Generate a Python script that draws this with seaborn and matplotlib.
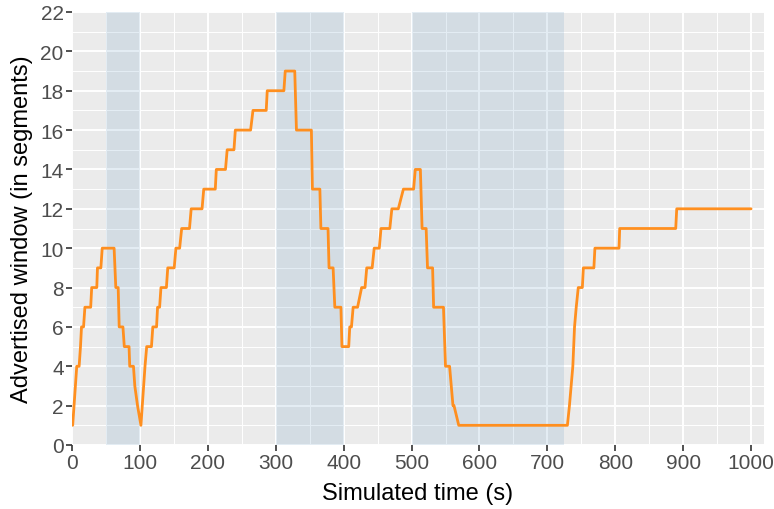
import matplotlib
matplotlib.use("Agg")
import matplotlib.pyplot as plt
import numpy as np
import pandas as pd
import seaborn as sns

# Advertised window trace (time in seconds, window in segments)
time_s = [1, 7, 10.5, 12.5, 14, 17, 19, 27.5, 29, 36.5, 37.5, 42.5, 44.5, 62, 64.5,
          68, 69.5, 75, 77, 84, 85, 90.5, 92.5, 96.5, 101.5, 107.5, 110, 117, 119,
          124.5, 126, 129, 131, 139, 141, 150.5, 153, 158.5, 161.5, 173, 175.5,
          191.5, 194, 211, 212.5, 226, 228.5, 238.5, 240.5, 263, 266.5, 286, 287.5,
          312, 314, 328, 330.5, 352.5, 354, 365, 366.5, 377, 378.5, 384.5, 387, 396,
          397.5, 407.5, 409, 411.5, 414, 420.5, 426.5, 431.5, 434, 442, 445, 452.5,
          455, 468, 471, 480.5, 488, 503, 505.5, 513, 515.5, 521.5, 523.5, 531,
          532.5, 547, 550, 556, 558.5, 561, 562.5, 569.5, 729.5, 732.5, 737.5, 740,
          742.5, 745.5, 751.5, 753, 768.5, 770, 805.5, 806.5, 889, 890.5, 1000]
window = [1, 4, 4, 5, 6, 6, 7, 7, 8, 8, 9, 9, 10, 10, 8,
          8, 6, 6, 5, 5, 4, 4, 3, 2, 1, 4, 5, 5, 6,
          6, 7, 7, 8, 8, 9, 9, 10, 10, 11, 11, 12,
          12, 13, 13, 14, 14, 15, 15, 16, 16, 17, 17, 18,
          18, 19, 19, 16, 16, 13, 13, 11, 11, 9, 9, 7, 7,
          5, 5, 6, 6, 7, 7, 8, 8, 9, 9, 10, 10,
          11, 11, 12, 12, 13, 13, 14, 14, 11, 11, 9, 9,
          7, 7, 4, 4, 3, 2, 2, 1, 1, 2, 4, 6,
          7, 8, 8, 9, 9, 10, 10, 11, 11, 12, 12]

# Shaded intervals (start, end) in seconds
shade_start = [50, 300, 500]
shade_end = [100, 400, 725]

x_ticks = list(range(0, 1001, 100))
y_ticks = list(range(0, 23, 2))

df = pd.DataFrame({"time": time_s, "window": window})

sns.set_theme(style="white")
plt.rcParams["font.family"] = ["Liberation Sans", "DejaVu Sans"]

fig = plt.figure(figsize=(7.74, 5.10), dpi=100)
ax = fig.add_axes([72 / 774, 64 / 510, 692 / 774, 433 / 510])
ax.set_facecolor("#EBEBEB")

ax.set_xlim(0, 1019)
ax.set_ylim(0, 22)
ax.set_xticks(x_ticks)
ax.set_yticks(y_ticks)
ax.set_xticks(np.arange(50, 1001, 100), minor=True)
ax.set_yticks(np.arange(1, 22, 2), minor=True)
ax.set_axisbelow(True)
ax.grid(which="major", color="white", linewidth=1.4)
ax.grid(which="minor", color="white", linewidth=0.7)

for s, e in zip(shade_start, shade_end):
    ax.axvspan(s, e, color="#4B87B6", alpha=0.15, linewidth=0, zorder=1.5)

sns.lineplot(data=df, x="time", y="window", sort=False, estimator=None,
             color="#FF8F1F", linewidth=2.0, ax=ax, zorder=3)

for sp in ax.spines.values():
    sp.set_visible(False)

ax.tick_params(which="major", length=4, width=1.2, color="#333333",
               labelcolor="#4D4D4D", labelsize=15, pad=2, bottom=True, left=True)
ax.tick_params(which="minor", length=0)

ax.set_xlabel("Simulated time (s)", fontsize=17, color="black", labelpad=7)
ax.set_ylabel("Advertised window (in segments)", fontsize=17, color="black", labelpad=5)

fig.savefig("out.png", dpi=100)
